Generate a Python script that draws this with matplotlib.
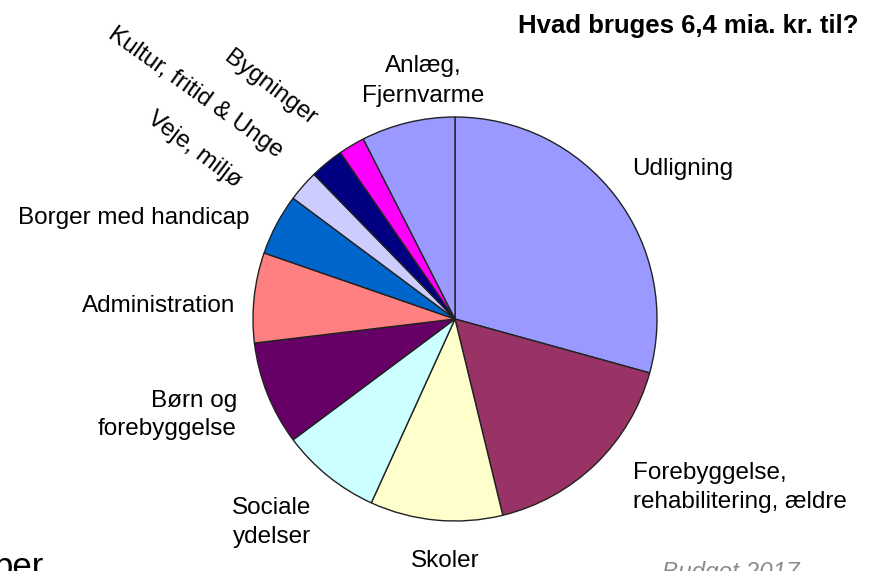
import matplotlib
matplotlib.use("Agg")
import matplotlib.pyplot as plt

plt.rcParams['font.family'] = ['Liberation Sans', 'DejaVu Sans']

# Data (shares in percent), clockwise from 12 o'clock
categories = ["Udligning", "Forebyggelse, rehabilitering, ældre", "Skoler",
              "Sociale ydelser", "Børn og forebyggelse", "Administration",
              "Borger med handicap", "Veje, miljø", "Kultur, fritid & Unge",
              "Bygninger", "Anlæg, Fjernvarme"]
values = [29.3, 16.9, 10.6, 8.0, 8.3, 7.2, 4.9, 2.5, 2.7, 2.1, 7.5]
colors = ["#9999FF", "#993366", "#FFFFCC", "#CCFFFF", "#660066", "#FF8080",
          "#0066CC", "#CCCCFF", "#000080", "#FF00FF", "#9999FF"]
title = "Hvad bruges 6,4 mia. kr. til?"

W, H = 873, 571
fig = plt.figure(figsize=(W / 100, H / 100), dpi=100)
ax = fig.add_axes([0, 0, 1, 1])

cx, cy, r = 455, 319, 202
ax.pie(values, colors=colors, startangle=90, counterclock=False,
       center=(cx, H - cy), radius=r,
       wedgeprops=dict(edgecolor="#222222", linewidth=1.0))
ax.set_xlim(0, W)
ax.set_ylim(0, H)
ax.set_aspect('equal')
ax.axis('off')

FS = 17.5


def T(x, y, s, **kw):
    kw.setdefault('fontsize', FS)
    kw.setdefault('va', 'baseline')
    ax.text(x, H - y, s, **kw)


T(859, 33, title, ha='right', fontweight='bold', fontsize=18.5)

T(632, 175, "Udligning", ha='left')
T(633, 479, "Forebyggelse,", ha='left')
T(633, 508, "rehabilitering, ældre", ha='left')
T(445, 567, "Skoler", ha='center')
T(272, 514, "Sociale", ha='center')
T(272, 543, "ydelser", ha='center')
T(237, 407, "Børn og", ha='right')
T(237, 435, "forebyggelse", ha='right')
T(235, 312, "Administration", ha='right')
T(249, 224, "Borger med handicap", ha='right')
T(423, 72, "Anlæg,", ha='center')
T(423, 102, "Fjernvarme", ha='center')

T(146, 121, "Veje, miljø", ha='left', rotation=-37, rotation_mode='anchor')
T(107, 37, "Kultur, fritid & Unge", ha='left', rotation=-35.5, rotation_mode='anchor')
T(223, 60, "Bygninger", ha='left', rotation=-37, rotation_mode='anchor')

# partially visible texts at the bottom edge
T(800, 579, "Budget 2017", ha='right', style='italic', color='#8c8c8c')
T(-6, 577, "ber", ha='left', fontsize=25)

fig.savefig("out.png", dpi=100)
